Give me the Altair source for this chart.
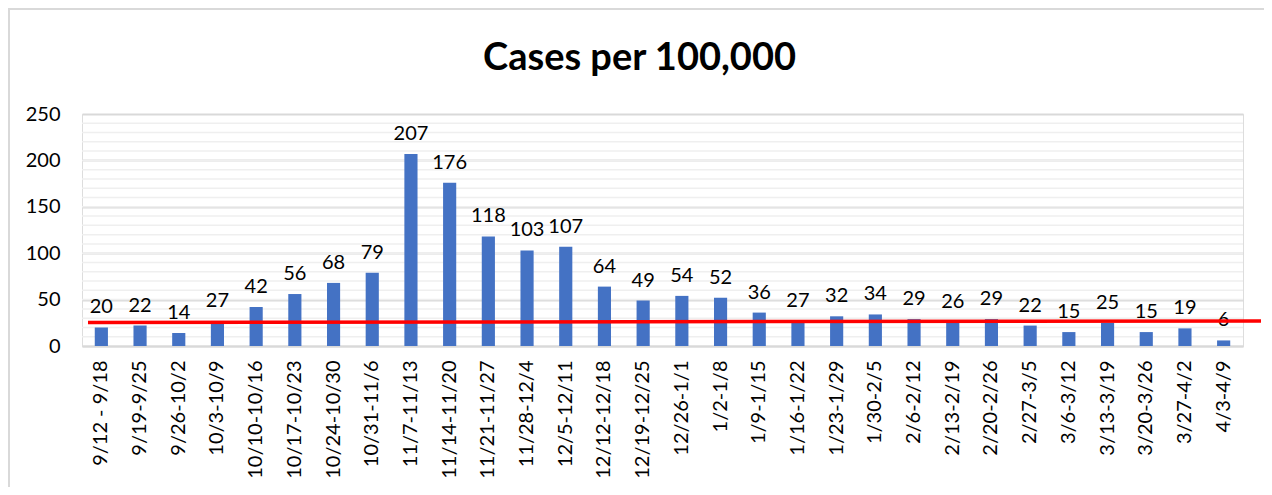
import altair as alt
import pandas as pd

weeks = ["9/12 - 9/18", "9/19-9/25", "9/26-10/2", "10/3-10/9", "10/10-10/16",
         "10/17-10/23", "10/24-10/30", "10/31-11/6", "11/7-11/13", "11/14-11/20",
         "11/21-11/27", "11/28-12/4", "12/5-12/11", "12/12-12/18", "12/19-12/25",
         "12/26-1/1", "1/2-1/8", "1/9-1/15", "1/16-1/22", "1/23-1/29",
         "1/30-2/5", "2/6-2/12", "2/13-2/19", "2/20-2/26", "2/27-3/5",
         "3/6-3/12", "3/13-3/19", "3/20-3/26", "3/27-4/2", "4/3-4/9"]
cases = [20, 22, 14, 27, 42, 56, 68, 79, 207, 176, 118, 103, 107, 64, 49,
         54, 52, 36, 27, 32, 34, 29, 26, 29, 22, 15, 25, 15, 19, 6]
minor_grid = list(range(10, 250, 10))
threshold_start = 25.3
threshold_end = 27.0

W, H = 1161, 232
PAD = {"left": 74, "top": 106, "right": 21, "bottom": 141}
FONT = "Lato"

df = pd.DataFrame({"week": weeks, "cases": cases})
grid_df = pd.DataFrame({"v": minor_grid})

x_enc = alt.X("week:N", sort=weeks, title=None,
              scale=alt.Scale(paddingInner=0.66, paddingOuter=0.33),
              axis=alt.Axis(labelAngle=-90, labelFontSize=20, labelFont=FONT,
                            labelColor="#000000", ticks=False, domain=True,
                            domainColor="#D9D9D9", domainWidth=2, labelPadding=14,
                            labelBaseline="middle", labelAlign="right"))
y_scale = alt.Scale(domain=[0, 250], nice=False)

minor = alt.Chart(grid_df).mark_rule(color="#EFEFEF", strokeWidth=1.5).encode(
    y=alt.Y("v:Q", scale=y_scale)
)

bars = alt.Chart(df).mark_bar(color="#4472C4").encode(
    x=x_enc,
    y=alt.Y("cases:Q", scale=y_scale, title=None,
            axis=alt.Axis(values=[0, 50, 100, 150, 200, 250], grid=True,
                          gridColor="#D9D9D9", gridWidth=2, ticks=False,
                          domain=False, labelFontSize=20, labelFont=FONT,
                          labelColor="#000000", labelPadding=22)),
)

labels = alt.Chart(df).mark_text(baseline="bottom", dy=-10, fontSize=20,
                                 font=FONT, color="#000000").encode(
    x=alt.X("week:N", sort=weeks),
    y=alt.Y("cases:Q", scale=y_scale),
    text="cases:Q",
)

red_line = alt.Chart(pd.DataFrame({"a": [threshold_start], "b": [threshold_end]})).mark_rule(
    color="#FF0000", strokeWidth=3.5
).encode(
    x=alt.value(6), x2=alt.value(1179),
    y=alt.Y("a:Q", scale=y_scale), y2="b:Q",
)

frame_top = alt.Chart(pd.DataFrame({"k": [0]})).mark_rule(color="#D9D9D9", strokeWidth=2).encode(
    x=alt.value(-PAD["left"]), x2=alt.value(W + PAD["right"]),
    y=alt.value(-PAD["top"] + 1),
)
frame_left = alt.Chart(pd.DataFrame({"k": [0]})).mark_rule(color="#D9D9D9", strokeWidth=2).encode(
    x=alt.value(-PAD["left"] + 1), y=alt.value(-PAD["top"]),
    y2=alt.value(H + PAD["bottom"]),
)

chart = alt.layer(minor, bars, labels, red_line, frame_top, frame_left).properties(
    width=W, height=H,
    autosize=alt.AutoSizeParams(type="none"),
    padding=PAD,
    title=alt.TitleParams("Cases per 100,000", fontSize=38, font=FONT,
                          fontWeight="bold", color="#000000", anchor="middle",
                          offset=-71, dx=-23),
).configure_view(stroke=None).configure(background="white")

chart.save("out.html", embed_options={"renderer": "svg", "actions": False})
